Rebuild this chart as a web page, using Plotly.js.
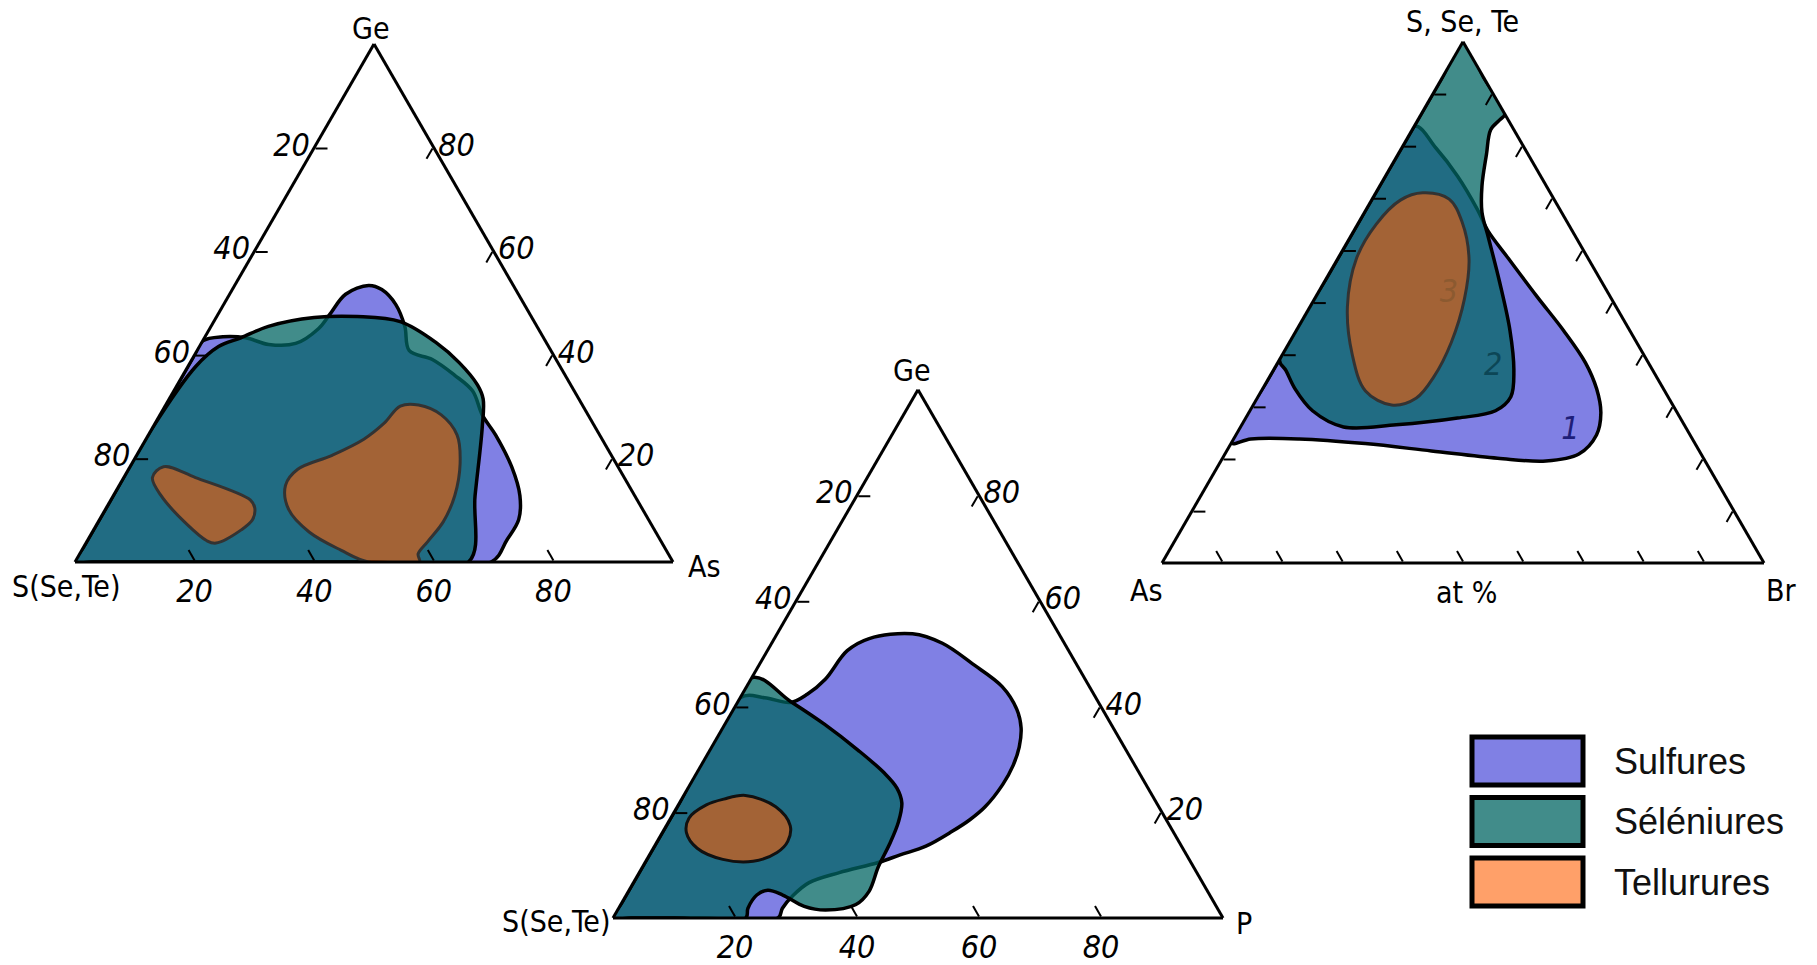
<!DOCTYPE html>
<html><head><meta charset="utf-8">
<script src="https://cdn.plot.ly/plotly-3.0.1.min.js"></script>
<style>html,body{margin:0;padding:0;background:#fff}#chart{width:1817px;height:965px}</style>
</head><body><div id="chart"></div>
<script>
// ---------- Diagram 1 : Ge - S(Se,Te) - As (at.%) ----------
const t1SulfGe = [0,3,14,26.4,40,42.7,43.5,43.3,42.0,42.2,45.1,47.8,51.7,53.4,52.6,49.7,45.5,40.8,39.1,36.1,33.0,28.4,24.5,18.3,12.8,8.2,4.3,0,0,0,0];
const t1SulfS  = [100,97,86,73.6,60,57.3,53.5,49.8,46.6,42.0,36.7,33.5,28.9,24.2,22.4,21.5,22.1,23.7,20.7,18.5,17.0,17.7,17.4,17.8,19.2,21.7,25.6,30.4,50,75,97];
const t1SulfAs = [0,0,0,0,0,0,3.0,6.9,11.4,15.8,18.2,18.7,19.4,22.4,25.0,28.8,32.4,35.5,40.2,45.4,50.0,53.9,58.1,63.9,68.0,70.1,70.1,69.6,50,25,3];

const t1SelGe = [0,3,12,26,37.7,41.6,43.3,45.5,47.2,47.4,46.4,42.3,38.5,34.2,31.5,26.0,12.8,0,0,0,0];
const t1SelS  = [100,97,88,74,61.0,55.2,50.6,44.9,36.4,29.1,22.4,18.4,16.5,15.6,16.0,18.9,26.7,34.2,50,75,97];
const t1SelAs = [0,0,0,0,1.3,3.2,6.1,9.6,16.4,23.5,31.2,39.3,45.0,50.2,52.5,55.1,60.5,65.8,50,25,3];

const t1TelAGe = [18.4,16.3,12.0,10.5,8.2,6.2,3.65,4.1,7.4,12.8,16.3];
const t1TelAS  = [76.0,71.7,64.7,64.7,66.2,69.1,74.6,75.9,77.7,79.2,78.9];
const t1TelAAs = [5.6,12.0,23.3,24.8,25.6,24.7,21.75,20.0,14.9,8.0,4.8];

const t1TelBGe = [30.1,30.3,28.4,24.5,19.0,12.8,7.8,3.9,1.55,0,0,2.3,5.8,10.1,14.8,17.9,20.6,23.7,26.8];
const t1TelBS  = [30.55,27.4,24.55,23.85,26.1,30.1,34.5,39.1,41.85,42.4,50.95,54.4,57.95,59.2,57.4,53.8,46.7,39.85,34.9];
const t1TelBAs = [39.35,42.3,47.05,51.65,54.9,57.1,57.7,57.0,56.6,57.6,49.05,43.3,36.25,30.7,27.8,28.3,32.7,36.45,38.3];

// ---------- Diagram 2 : Ge - S(Se,Te) - P ----------
const t2SulfGe = [0,3,20,41.7,41.7,40.8,42.4,45.2,50.6,52.9,53.8,52.0,48.1,43.8,39.5,36.0,32.4,28.9,25.3,21.05,18.6,16.4,13.6,11.95,10.5,8.6,6.7,4.3,1.85,0,0,0];
const t2SulfS  = [100,97,80,58.3,54.3,50.5,46.9,42.6,36.3,31.55,24.0,20.0,17.0,14.3,14.05,15.1,17.2,19.95,23.45,28.47,32.2,36.2,41.9,46.95,51.25,58.6,64.5,68.3,71.3,72.95,86,97];
const t2SulfP  = [0,0,0,0,4.0,8.7,10.7,12.2,13.1,15.55,22.2,28.0,34.9,41.9,46.45,48.9,50.4,51.15,51.25,50.48,49.2,47.4,44.5,41.1,38.25,32.8,28.8,27.4,26.85,27.05,14,3];

const t2SelGe = [0,3,22,45.5,41.0,36.7,31.7,27.45,24.6,21.8,18.2,13.95,9.7,5.05,2.55,1.5,2.2,4.35,5.25,4.35,1.85,0,0,0];
const t2SelS  = [100,97,78,54.5,50.4,47.0,43.9,41.8,41.15,41.75,44.1,47.7,51.65,55.5,58.9,64.4,67.55,70.0,72.0,74.25,76.95,78.25,90,97];
const t2SelP  = [0,0,0,0,8.6,16.3,24.4,30.75,34.25,36.45,37.7,38.35,38.65,39.45,38.55,34.1,30.25,25.65,22.75,21.4,21.2,21.75,10,3];

const t2TelGe = [18.9,21.4,22.5,23.2,21.05,17.5,14.5,12.4,10.75,11.1,13.2,16.1];
const t2TelS  = [78.1,74.0,70.6,66.7,62.8,62.2,64.1,66.9,71.65,76.45,79.6,79.9];
const t2TelP  = [3.0,4.6,6.9,10.1,16.15,20.3,21.4,20.7,17.6,12.45,7.2,4.0];

// ---------- Diagram 3 : S,Se,Te - As - Br ----------
const t3SulfX  = [23,35,50,65,83.8,79.6,74.2,67.7,63.8,58.4,51.1,44.6,38.4,33.4,28.8,24.55,20.9,19.55,20.1,21.5,22.9,23.8,23.8];
const t3SulfAs = [77,65,50,35,16.2,14.7,13.8,13.7,14.0,13.25,12.15,11.0,10.45,11.1,12.7,15.55,20.3,26.45,34.2,44.5,54.8,65.3,73.35];
const t3SulfBr = [0,0,0,0,0,5.7,12.0,18.6,22.2,28.35,36.75,44.4,51.15,55.5,58.5,59.9,58.8,54.0,45.7,34.0,22.3,10.9,2.85];

const t3SelX  = [100,93,86.1,85.0,83.1,78.4,72.3,67.3,62.3,53.8,44.6,36.9,31.9,29.2,27.8,26.5,26.1,29.2,33.4,36.9,39.0,55,75,93];
const t3SelAs = [0,0,0,1.4,3.85,6.9,10.7,13.2,14.6,17.0,19.9,23.1,26.1,30.0,37.0,47.85,56.8,60.4,61.2,60.95,61.0,45,25,7];
const t3SelBr = [0,7,13.9,13.6,13.05,14.7,17.0,19.5,23.1,29.2,35.5,40.0,42.0,40.8,35.2,25.65,17.1,10.4,5.4,2.15,0,0,0,0];

const t3TelX  = [71.0,69.8,65.4,58.4,50.7,42.3,35.7,31.6,30.3,33.0,40.0,49.2,58.4,65.0,69.6];
const t3TelAs = [21.2,17.4,17.45,19.8,24.4,30.8,37.0,42.0,46.7,49.7,48.4,44.6,38.5,31.9,25.6];
const t3TelBr = [7.8,12.8,17.15,21.8,24.9,26.9,27.3,26.4,23.0,17.3,11.6,6.2,3.1,3.1,4.8];

const t3LabelText = ['1','2','3'];
const t3LabelX  = [25.3,37.6,51.5];
const t3LabelAs = [19.5,26.2,26.6];
const t3LabelBr = [55.2,36.2,21.9];
const t3LabelColor = ['#1e1e78','#0c4656','#8c5a30'];

// ticks & labels
const tickVals20 = [20,40,60,80];
const tickText20 = ['80','60','40','20'];
const tickVals10 = [10,20,30,40,50,60,70,80,90];

const vertexLabels1 = ['Ge','S(Se,Te)','As'];
const vertexLabels2 = ['Ge','S(Se,Te)','P'];
const vertexLabels3 = ['S, Se, Te','As','Br'];
const unitLabel3 = 'at %';

const legendNames = ['Sulfures','Séléniures','Tellurures'];
const legendColors = ['rgb(128,128,228)','rgba(1,101,99,0.75)','rgba(255,93,0,0.59)'];

// ---------- build ----------
const W = 1817, H = 965;
const F = '"DejaVu Sans Condensed", "Liberation Sans Narrow", "DejaVu Sans", sans-serif';
const SULF = legendColors[0], SEL = legendColors[1], TEL = legendColors[2];

function dom(cx, baseY, w){
  const h = w*Math.sqrt(3)/2;
  return {x:[(cx-w/2)/W,(cx+w/2)/W], y:[(H-baseY)/H,(H-baseY+h)/H]};
}
function ring(arr){ return arr.concat([arr[0]]); }
function region(sub, A, B, C, fill, lc, lw, name){
  return {type:'scatterternary', subplot:sub, a:ring(A), b:ring(B), c:ring(C),
    mode:'lines', fill:'toself', fillcolor:fill,
    line:{color:lc, width:lw, shape:'spline', smoothing:1},
    name:name, showlegend:false, hoverinfo:'name'};
}
function axis(vals, text, showLabels){
  return {title:{text:''},
    min:0, showline:true, linecolor:'#000', linewidth:3, showgrid:false,
    ticks:'inside', ticklen:12, tickwidth:2, tickcolor:'#000',
    tickmode:'array', tickvals:vals, ticktext:text, showticklabels:showLabels,
    tickfont:{family:F, size:32, style:'italic', color:'#000'}};
}

const data = [
  region('ternary', t1SulfGe, t1SulfS, t1SulfAs, SULF, '#000', 3.5, 'Sulfures'),
  region('ternary2', t2SulfGe, t2SulfS, t2SulfP, SULF, '#000', 3.5, 'Sulfures'),
  region('ternary3', t3SulfX, t3SulfAs, t3SulfBr, SULF, '#000', 3.5, 'Sulfures'),
  region('ternary', t1SelGe, t1SelS, t1SelAs, SEL, '#000', 3.5, 'Séléniures'),
  region('ternary2', t2SelGe, t2SelS, t2SelP, SEL, '#000', 3.5, 'Séléniures'),
  region('ternary3', t3SelX, t3SelAs, t3SelBr, SEL, '#000', 3.5, 'Séléniures'),
  region('ternary', t1TelAGe, t1TelAS, t1TelAAs, TEL, '#333', 3, 'Tellurures'),
  region('ternary', t1TelBGe, t1TelBS, t1TelBAs, TEL, '#333', 3, 'Tellurures'),
  region('ternary2', t2TelGe, t2TelS, t2TelP, TEL, '#111', 3, 'Tellurures'),
  region('ternary3', t3TelX, t3TelAs, t3TelBr, TEL, '#333', 3, 'Tellurures'),
  {type:'scatterternary', subplot:'ternary3', a:t3LabelX, b:t3LabelAs, c:t3LabelBr,
   mode:'text', text:t3LabelText, textfont:{family:F, size:32, style:'italic', color:t3LabelColor},
   showlegend:false, hoverinfo:'skip'}
];

const shapes = [], annotations = [];
function label(text, x, y, size, anchor, style){
  annotations.push({xref:'paper', yref:'paper', x:x/W, y:1-y/H, xanchor:anchor||'center', yanchor:'middle',
    text:text, showarrow:false, font:{family:F, size:size, style:style||'normal', color:'#000'}});
}
// vertex labels (placed at the triangle corners)
label(vertexLabels1[0], 371, 28, 30);
label(vertexLabels1[1], 66, 586, 30);
label(vertexLabels1[2], 704, 566, 30);
label(vertexLabels2[0], 912, 370, 30);
label(vertexLabels2[1], 556, 921, 30);
label(vertexLabels2[2], 1244, 923, 30);
label(vertexLabels3[0], 1462, 22, 30);
label(vertexLabels3[1], 1146, 590, 30);
label(vertexLabels3[2], 1781, 590, 30);
label(unitLabel3, 1466, 592, 30);

legendNames.forEach((n,i)=>{
  const top = 737 + i*60.5, bot = top + 48;
  shapes.push({type:'rect', xref:'paper', yref:'paper', x0:1472/W, x1:1583/W, y0:1-bot/H, y1:1-top/H,
    fillcolor:legendColors[i], line:{color:'#000', width:5}});
  annotations.push({xref:'paper', yref:'paper', x:1612/W, y:1-(top+bot)/2/H, xanchor:'left', yanchor:'middle',
    text:n, showarrow:false, font:{family:'"Liberation Sans", Arial, sans-serif', size:36, color:'#111'}});
});

const layout = {
  width:W, height:H, margin:{l:0,r:0,t:0,b:0},
  paper_bgcolor:'#fff', plot_bgcolor:'#fff', showlegend:false,
  ternary:{sum:100, domain:dom(374,562,598), bgcolor:'rgba(0,0,0,0)',
    aaxis:axis(tickVals20, tickText20, true),
    baxis:axis(tickVals20, tickText20, true),
    caxis:axis(tickVals20, tickText20, true)},
  ternary2:{sum:100, domain:dom(918,918,610), bgcolor:'rgba(0,0,0,0)',
    aaxis:axis(tickVals20, tickText20, true),
    baxis:axis(tickVals20, tickText20, true),
    caxis:axis(tickVals20, tickText20, true)},
  ternary3:{sum:100, domain:dom(1463,563,602), bgcolor:'rgba(0,0,0,0)',
    aaxis:axis(tickVals10, null, false),
    baxis:axis(tickVals10, null, false),
    caxis:axis(tickVals10, null, false)},
  shapes:shapes, annotations:annotations
};

Plotly.newPlot('chart', data, layout, {displayModeBar:false, responsive:false});
</script>
</body></html>
